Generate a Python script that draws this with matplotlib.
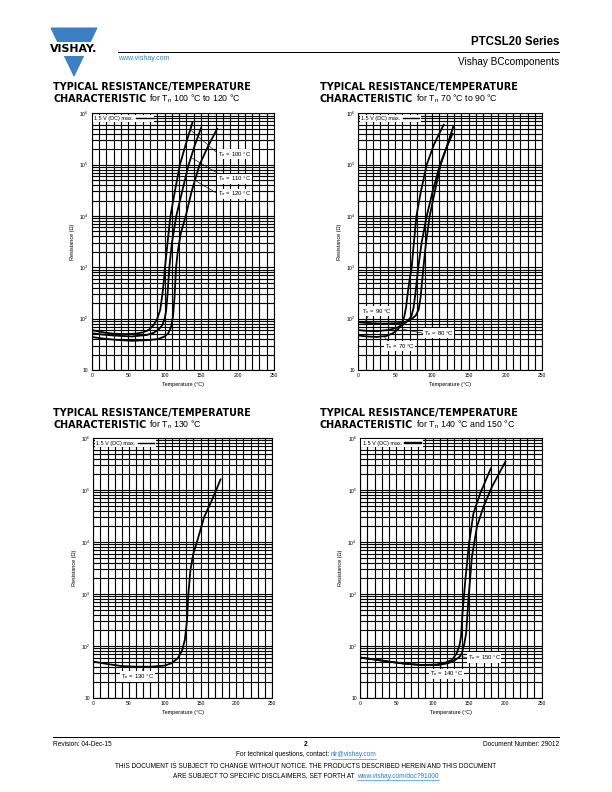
import numpy as np
import matplotlib
matplotlib.use('Agg')
import matplotlib.pyplot as plt
from matplotlib.ticker import MultipleLocator, LogLocator, NullFormatter
from matplotlib.patches import Polygon, Rectangle
from matplotlib.lines import Line2D

plt.rcParams['font.family'] = ['Liberation Sans', 'DejaVu Sans']
plt.rcParams['mathtext.fontset'] = 'custom'
plt.rcParams['mathtext.rm'] = 'Liberation Sans'
plt.rcParams['mathtext.it'] = 'Liberation Sans'

# ---- data (temperature degC, resistance ohm) ----
t100 = [0, 10, 20, 30, 45, 60, 70, 78, 85, 90, 94, 97, 99, 100.5, 104, 108, 114, 121, 129, 138]
r100 = [60, 56, 53, 51, 50, 51, 54, 60, 75, 100, 150, 300, 550, 1000, 3000, 1e4, 3e4, 1e5, 2.5e5, 6.5e5]
t110 = [0, 15, 30, 55, 75, 85, 92, 97, 100, 102, 104, 106.5, 110, 116, 124, 133, 141, 150]
r110 = [52, 49, 47, 45, 48, 53, 62, 75, 100, 140, 300, 1000, 3000, 1e4, 3e4, 1e5, 2.3e5, 5.2e5]
t120 = [0, 15, 30, 55, 75, 91, 100, 105, 109, 111.5, 113.5, 115.7, 118, 122, 129, 137, 148, 159, 172]
r120 = [44, 41, 39, 37, 38, 40, 45, 52, 70, 110, 250, 1000, 2000, 4500, 1e4, 3e4, 1e5, 2.2e5, 5e5]

t90 = [0, 15, 35, 55, 65, 72, 78, 82, 84.5, 86.5, 88.5, 92, 97, 104, 112, 120, 129]
r90 = [85, 82, 80, 82, 88, 97, 115, 150, 250, 500, 1000, 3000, 1e4, 3e4, 1e5, 2.2e5, 5.5e5]
t80 = [0, 10, 25, 40, 52, 60, 67, 72, 75, 77.5, 79.5, 81.5, 86, 93, 101, 111, 119, 128]
r80 = [60, 58, 57, 60, 66, 75, 90, 110, 160, 300, 550, 1000, 3000, 1e4, 3e4, 1e5, 2e5, 4e5]
t70 = [0, 12, 25, 38, 47, 54, 59, 62.5, 65, 67, 69.5, 72.5, 75.5, 79, 85, 93, 103, 116]
r70 = [47, 45, 44, 46, 52, 62, 80, 110, 170, 300, 550, 1000, 3000, 1e4, 3e4, 1e5, 2.5e5, 6e5]

t130 = [0, 20, 40, 60, 80, 100, 110, 118, 124, 128, 131, 133, 136, 140, 145, 155, 165, 172, 178]
r130 = [50, 45, 41, 40, 40, 42, 47, 58, 80, 130, 300, 1000, 3000, 6000, 1e4, 3e4, 6e4, 1e5, 1.6e5]

t140 = [0, 20, 40, 60, 85, 105, 118, 126.5, 133, 137, 139, 141, 145, 150, 156, 165.5, 180]
r140 = [60, 55, 50, 46, 43, 44, 48, 54, 72, 105, 150, 430, 1900, 9300, 3.5e4, 8.7e4, 2.6e5]
t150 = [0, 20, 40, 60, 85, 108, 122, 131, 137, 140, 143.5, 146, 149.5, 154, 161, 170, 181.5, 200]
r150 = [60, 55, 50, 46, 43, 43, 47, 54, 62, 72, 110, 175, 900, 5200, 2e4, 4.8e4, 1.15e5, 3.5e5]

y_ticks = [10, 1e2, 1e3, 1e4, 1e5, 1e6]
y_tick_labels = ['10', r'10$^2$', r'10$^3$', r'10$^4$', r'10$^5$', r'10$^6$']
x_ticks = [0, 50, 100, 150, 200, 250]

TN = r'T$_\mathregular{n}$'

W, H = 612, 792
fig = plt.figure(figsize=(W / 72, H / 72), dpi=72)


def fx(x):
    return x / W


def fy(y):
    return 1 - y / H


def make_axes(l, t, r, b, leg_lw=1.4):
    ax = fig.add_axes([l / W, 1 - b / H, (r - l) / W, (b - t) / H])
    ax.set_yscale('log')
    ax.set_xlim(0, 250)
    ax.set_ylim(10, 1e6)
    ax.set_xticks(x_ticks)
    ax.xaxis.set_minor_locator(MultipleLocator(10))
    ax.set_yticks(y_ticks)
    ax.set_yticklabels(y_tick_labels)
    ax.yaxis.set_minor_locator(LogLocator(base=10, subs=range(2, 10)))
    ax.yaxis.set_minor_formatter(NullFormatter())
    ax.grid(which='both', color='black', lw=1.15)
    ax.tick_params(which='both', length=0, labelsize=5, pad=3)
    ax.set_xlabel('Temperature (°C)', fontsize=5.5, labelpad=4)
    ax.set_ylabel('Resistance (Ω)', fontsize=5.5, labelpad=4)
    for s in ax.spines.values():
        s.set_linewidth(1.1)
    h = Line2D([], [], color='black', lw=leg_lw)
    leg = ax.legend([h], ['1.5 V (DC) max.'], loc='upper left', markerfirst=False,
                    fontsize=5.5, frameon=True, fancybox=False, framealpha=1,
                    facecolor='white', edgecolor='none', borderaxespad=0.25,
                    borderpad=0.25, handlelength=3, handletextpad=0.5)
    leg.get_frame().set_linewidth(0)
    return ax


def label(ax, text, xy, leader):
    ax.text(xy[0], xy[1], text, fontsize=6, va='center', ha='left',
            bbox=dict(facecolor='white', edgecolor='none', pad=0.8), zorder=5)
    (x0, y0), (x1, y1) = leader
    ax.plot([x0, x1], [y0, y1], color='black', lw=0.6, zorder=4)


# ---- chart 1: Tn 100..120
ax1 = make_axes(91.7, 113.3, 274, 370)
for t, r in [(t100, r100), (t110, r110), (t120, r120)]:
    ax1.plot(t, r, color='black', lw=1.8, zorder=3)
label(ax1, TN + ' = 100 °C', (173, 1.6e5), [(135, 4.8e5), (172, 1.7e5)])
label(ax1, TN + ' = 110 °C', (173, 5.3e4), [(137, 1.36e5), (175, 6.5e4)])
label(ax1, TN + ' = 120 °C', (173, 2.7e4), [(144, 4.7e4), (175, 2.6e4)])

# ---- chart 2: Tn 70..90
ax2 = make_axes(358.3, 113.3, 542.3, 370)
for t, r in [(t90, r90), (t80, r80), (t70, r70)]:
    ax2.plot(t, r, color='black', lw=1.8, zorder=3)
label(ax2, TN + ' = 90 °C', (5, 140), [(14, 118), (9, 84)])
label(ax2, TN + ' = 80 °C', (89, 52), [(60, 62), (88, 52)])
label(ax2, TN + ' = 70 °C', (36, 29), [(43, 33), (35, 45)])

# ---- chart 3: Tn 130
ax3 = make_axes(93.3, 438, 272, 698)
ax3.plot(t130, r130, color='black', lw=1.8, zorder=3)
label(ax3, TN + ' = 130 °C', (39, 26), [(68, 30), (70, 39)])

# ---- chart 4: Tn 140 / 150
ax4 = make_axes(360, 438, 541.7, 698, leg_lw=2.4)
for t, r in [(t140, r140), (t150, r150)]:
    ax4.plot(t, r, color='black', lw=1.8, zorder=3)
label(ax4, TN + ' = 150 °C', (148, 60), [(140, 62), (148, 60)])
label(ax4, TN + ' = 140 °C', (96, 29), [(114, 35), (111, 41)])

# ---- header
blue = '#3b7fc4'
fig.patches.append(Polygon([(fx(51), fy(28)), (fx(97), fy(28)), (fx(74), fy(76))],
                           closed=True, transform=fig.transFigure, color=blue))
fig.patches.append(Rectangle((fx(46), fy(55)), (100 - 46) / W, 13 / H,
                             transform=fig.transFigure, color='white'))
fig.text(fx(74), fy(48.5), 'VISHAY.', fontsize=11, fontweight='bold', ha='center', va='center',
         family='DejaVu Sans')
fig.text(fx(118), fy(58), 'www.vishay.com', fontsize=7, color='#2b8ad6', ha='left', va='center')
fig.text(fx(559), fy(42), 'PTCSL20 Series', fontsize=11.5, fontweight='bold', ha='right', va='center')
fig.lines.append(Line2D([fx(118), fx(559)], [fy(52), fy(52)], transform=fig.transFigure,
                        color='black', lw=1))
fig.text(fx(559), fy(62), 'Vishay BCcomponents', fontsize=10, ha='right', va='center')

renderer = fig.canvas.get_renderer()


def rich_line(x, y, parts, ha='left', underline=None, gap=0):
    texts = []
    for s, kw in parts:
        texts.append(fig.text(0, fy(y), s, va='center', ha='left', **kw))
    widths = [t.get_window_extent(renderer).width for t in texts]
    total = sum(widths) + gap * (len(parts) - 1)
    start = x if ha == 'left' else x - total / 2
    pos = start
    for t, w in zip(texts, widths):
        t.set_x(fx(pos))
        if underline is not None and t.get_color() == underline:
            fig.lines.append(Line2D([fx(pos), fx(pos + w)], [fy(y + 4), fy(y + 4)],
                                    transform=fig.transFigure, color=underline, lw=0.6))
        pos += w + gap


bold_t = dict(fontsize=9.6, fontweight='bold', family='DejaVu Sans')
reg_t = dict(fontsize=8.8)
titles = [(53, 87, '100 °C to 120 °C'), (320, 87, '70 °C to 90 °C'),
          (53, 413, '130 °C'), (320, 413, '140 °C and 150 °C')]
for x, y, rng in titles:
    fig.text(fx(x), fy(y), 'TYPICAL RESISTANCE/TEMPERATURE', va='center', ha='left', **bold_t)
    rich_line(x, y + 12, [('CHARACTERISTIC', bold_t), ('for ' + TN + ' ' + rng, reg_t)], gap=3)

# ---- footer
fig.lines.append(Line2D([fx(53), fx(559)], [fy(737), fy(737)], transform=fig.transFigure,
                        color='black', lw=1))
fig.text(fx(53), fy(744), 'Revision: 04-Dec-15', fontsize=6.5, ha='left', va='center')
fig.text(fx(306), fy(745), '2', fontsize=6.5, fontweight='bold', ha='center', va='center')
fig.text(fx(559), fy(744), 'Document Number: 29012', fontsize=6.5, ha='right', va='center')
link = '#1f7fd0'
rich_line(306, 755, [('For technical questions, contact:', dict(fontsize=6.5)),
                     ('nlr@vishay.com', dict(fontsize=6.5, color=link))],
          ha='center', underline=link, gap=2)
fig.text(fx(306), fy(767), 'THIS DOCUMENT IS SUBJECT TO CHANGE WITHOUT NOTICE. THE PRODUCTS '
         'DESCRIBED HEREIN AND THIS DOCUMENT', fontsize=6.5, ha='center', va='center')
rich_line(306, 776, [('ARE SUBJECT TO SPECIFIC DISCLAIMERS, SET FORTH AT', dict(fontsize=6.5)),
                     ('www.vishay.com/doc?91000', dict(fontsize=6.5, color=link))],
          ha='center', underline=link, gap=2)

fig.savefig('out.png', dpi=72)
